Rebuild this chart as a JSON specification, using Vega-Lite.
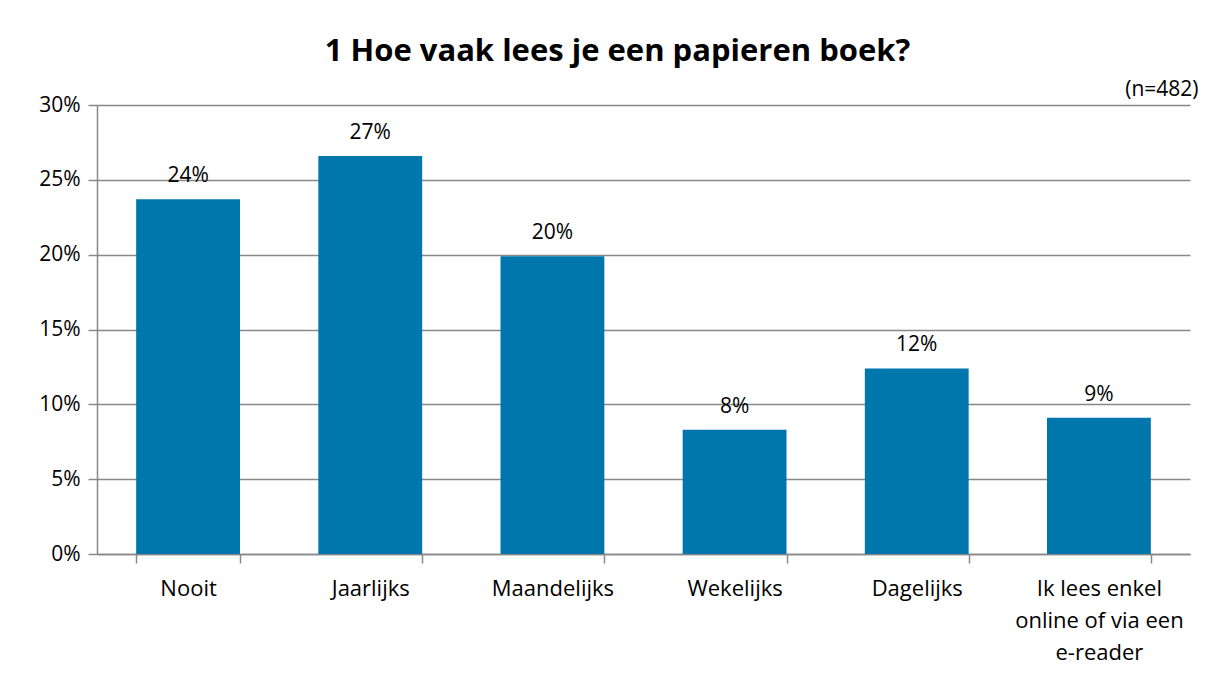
{
  "$schema": "https://vega.github.io/schema/vega-lite/v6.json",
  "width": 1093,
  "height": 449,
  "autosize": "none",
  "padding": {"left": 97, "top": 105, "right": 24, "bottom": 124},
  "background": "white",
  "title": {
    "text": "1 Hoe vaak lees je een papieren boek?",
    "font": "Open Sans",
    "fontSize": 31,
    "fontWeight": "bold",
    "color": "#000000",
    "anchor": "middle",
    "dx": -26,
    "offset": 10
  },
  "data": {
    "values": [
      {"cat": "Nooit", "pct": 0.237},
      {"cat": "Jaarlijks", "pct": 0.266},
      {"cat": "Maandelijks", "pct": 0.199},
      {"cat": "Wekelijks", "pct": 0.083},
      {"cat": "Dagelijks", "pct": 0.124},
      {"cat": "Ik lees enkel online of via een e-reader", "pct": 0.091}
    ]
  },
  "layer": [
    {
      "mark": {"type": "bar", "color": "#0077AC"},
      "encoding": {
        "x": {
          "field": "cat",
          "type": "nominal",
          "sort": null,
          "scale": {"paddingInner": 0.43, "paddingOuter": 0.215},
          "axis": {
            "title": null,
            "labelAngle": 0,
            "labelFont": "Open Sans",
            "labelFontSize": 22,
            "labelColor": "#000000",
            "labelLineHeight": 32,
            "labelPadding": 15,
            "labelExpr": "datum.value == 'Ik lees enkel online of via een e-reader' ? ['Ik lees enkel', 'online of via een', 'e-reader'] : datum.value",
            "tickBand": "extent",
            "tickSize": 9,
            "tickColor": "#888888",
            "tickWidth": 1.5,
            "domainColor": "#888888",
            "domainWidth": 1.5,
            "labelLimit": 300
          }
        },
        "y": {
          "field": "pct",
          "type": "quantitative",
          "scale": {"domain": [0, 0.3], "nice": false},
          "axis": {
            "title": null,
            "values": [0, 0.05, 0.1, 0.15, 0.2, 0.25, 0.3],
            "format": ".0%",
            "labelFont": "Open Sans",
            "labelFontSize": 21,
            "labelColor": "#000000",
            "labelPadding": 8,
            "tickSize": 9,
            "tickColor": "#888888",
            "tickWidth": 1.5,
            "domainColor": "#888888",
            "domainWidth": 1.5,
            "grid": true,
            "gridColor": "#888888",
            "gridWidth": 1.5
          }
        }
      }
    },
    {
      "mark": {"type": "text", "font": "Open Sans", "fontSize": 21, "color": "#000000", "baseline": "bottom", "dy": -13},
      "encoding": {
        "x": {
          "field": "cat",
          "type": "nominal",
          "sort": null,
          "axis": {
            "orient": "top",
            "labels": false,
            "ticks": false,
            "domain": false,
            "title": "(n=482)",
            "titleFont": "Open Sans",
            "titleFontSize": 21,
            "titleFontWeight": "normal",
            "titleColor": "#000000",
            "titleAnchor": "end",
            "titleAlign": "right",
            "titleX": 1101,
            "titlePadding": 6
          }
        },
        "y": {"field": "pct", "type": "quantitative"},
        "text": {"field": "pct", "type": "quantitative", "format": ".0%"}
      }
    }
  ],
  "resolve": {"axis": {"x": "independent"}},
  "config": {"view": {"stroke": null}}
}
